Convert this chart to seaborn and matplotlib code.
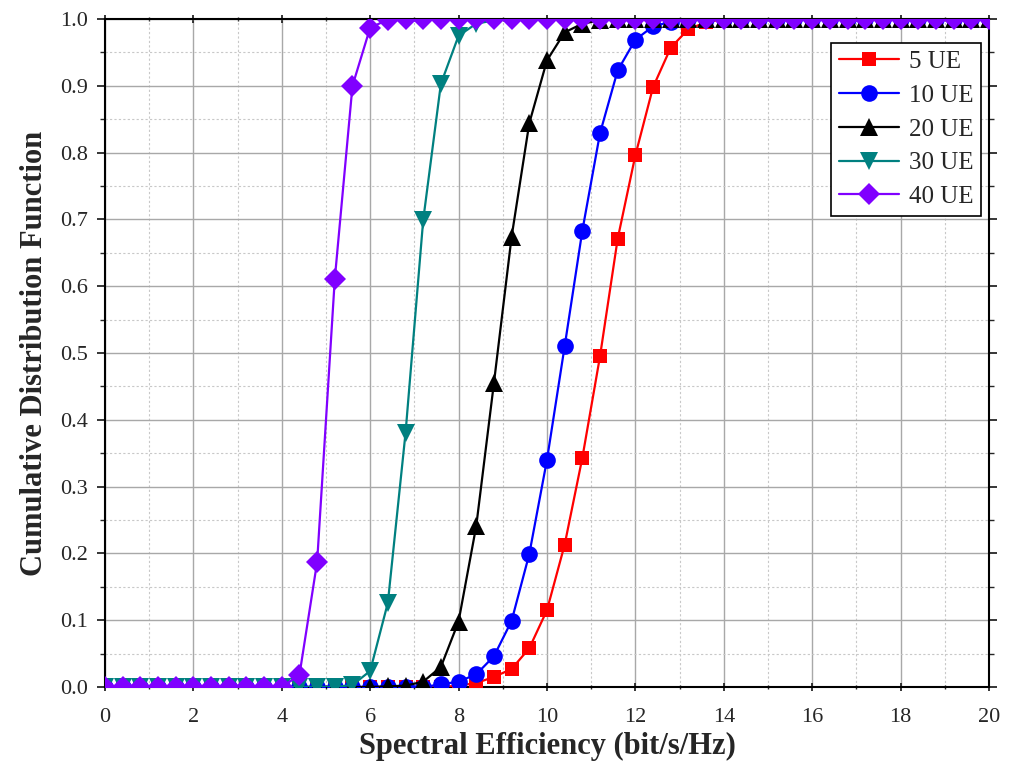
import numpy as np
import pandas as pd
import matplotlib
matplotlib.use("Agg")
import matplotlib.pyplot as plt
from matplotlib.ticker import MultipleLocator
import seaborn as sns

# spectral efficiency grid (markers every 0.4 bit/s/Hz)
se = [round(0.4 * i, 1) for i in range(51)]

# CDF values, starting at se = 0
cdf_5 = [0.0] * 20 + [0.002, 0.006, 0.015, 0.027, 0.058, 0.115, 0.213, 0.343, 0.495,
                      0.671, 0.796, 0.898, 0.957, 0.985, 0.995, 1.0]
cdf_10 = [0.0] * 19 + [0.004, 0.008, 0.019, 0.046, 0.099, 0.199, 0.34, 0.51, 0.683,
                       0.829, 0.923, 0.969, 0.989, 0.996, 1.0]
cdf_20 = [0.0] * 16 + [0.001, 0.002, 0.008, 0.03, 0.098, 0.241, 0.455, 0.674, 0.844,
                       0.938, 0.98, 0.993, 0.998, 1.0]
cdf_30 = [0.0] * 14 + [0.003, 0.024, 0.126, 0.38, 0.699, 0.903, 0.975, 0.993, 0.998, 1.0]
cdf_40 = [0.0] * 11 + [0.018, 0.187, 0.611, 0.90, 0.987, 0.999, 1.0]

series = {
    "5 UE": cdf_5,
    "10 UE": cdf_10,
    "20 UE": cdf_20,
    "30 UE": cdf_30,
    "40 UE": cdf_40,
}
colors = {"5 UE": "#ff0000", "10 UE": "#0000ff", "20 UE": "#000000",
          "30 UE": "#008080", "40 UE": "#8000ff"}
markers = {"5 UE": "s", "10 UE": "o", "20 UE": "^", "30 UE": "v", "40 UE": "D"}
msize = {"5 UE": 10.5, "10 UE": 12, "20 UE": 12.5, "30 UE": 12.5, "40 UE": 11}

sns.set_style("ticks")
plt.rcParams['font.family'] = ['Liberation Serif', 'DejaVu Serif']

fig = plt.figure(figsize=(10.16, 7.67), dpi=100)
ax = fig.add_axes([0.1033, 0.1043, 0.8701, 0.8709])

for name, vals in series.items():
    vals = vals + [1.0] * (len(se) - len(vals))
    df = pd.DataFrame({"se": se, "cdf": vals})
    sns.lineplot(data=df, x="se", y="cdf", ax=ax, color=colors[name],
                 marker=markers[name], markersize=msize[name],
                 markeredgewidth=0, linewidth=1.6, label=name, zorder=3)

ax.set_xlim(0, 20)
ax.set_ylim(0, 1.0)
ax.xaxis.set_major_locator(MultipleLocator(2))
ax.xaxis.set_minor_locator(MultipleLocator(1))
ax.yaxis.set_minor_locator(MultipleLocator(0.05))
ax.set_yticks(np.arange(0, 1.01, 0.1))
ax.set_yticklabels([f"{v:.1f}" for v in np.arange(0, 1.01, 0.1)])

ax.grid(which="major", color="#a8a8a8", linestyle="-", linewidth=1.0, zorder=0)
ax.grid(which="minor", color="#c8c8c8", linestyle=(0, (2, 2)), linewidth=0.8, zorder=0)
ax.set_axisbelow(True)

for sp in ax.spines.values():
    sp.set_visible(True)
    sp.set_linewidth(1.5)
    sp.set_color("black")

ax.tick_params(which="major", direction="out", length=6, width=1.3,
               labelsize=16, right=True, pad=6)
ax.tick_params(which="minor", direction="out", length=3.5, width=1.0, right=True)
ax.tick_params(axis="x", which="both", top=True, direction="inout")
ax.tick_params(axis="x", which="major", pad=12)

ax.set_xlabel("Spectral Efficiency (bit/s/Hz)", fontsize=22, fontweight="bold", labelpad=4)
ax.set_ylabel("Cumulative Distribution Function", fontsize=22, fontweight="bold", labelpad=8)

leg = ax.legend(loc="upper right", bbox_to_anchor=(0.999, 0.975), fontsize=18,
                frameon=True, fancybox=False, edgecolor="black", framealpha=1,
                handlelength=2.4, borderpad=0.3, labelspacing=0.45, handletextpad=0.4,
                borderaxespad=0.3)
leg.get_frame().set_linewidth(1.2)

fig.savefig("out.png", dpi=100)
